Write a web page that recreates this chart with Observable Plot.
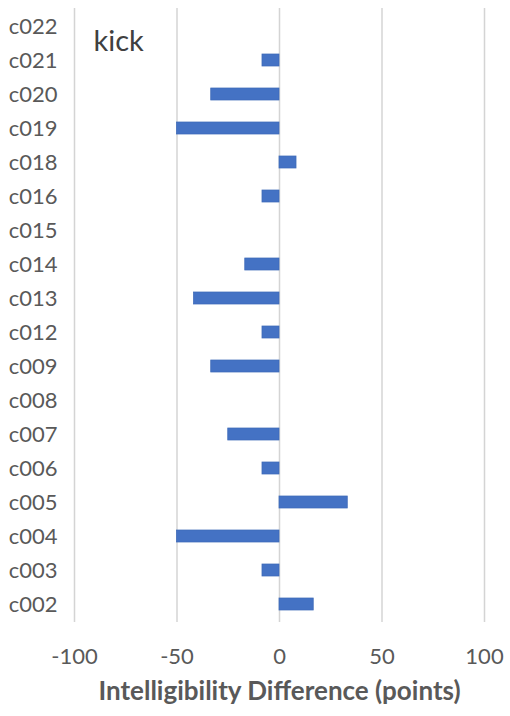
<!DOCTYPE html>
<html>
<head>
<meta charset="utf-8">
<script src="https://cdn.jsdelivr.net/npm/d3@7"></script>
<script src="https://cdn.jsdelivr.net/npm/@observablehq/plot@0.6"></script>
<style>
  html, body { margin: 0; padding: 0; background: #fff; }
  #chart svg { display: block; }
</style>
</head>
<body>
<div id="chart"></div>
<script>
const categories = ["c002","c003","c004","c005","c006","c007","c008","c009","c012","c013","c014","c015","c016","c018","c019","c020","c021","c022"];
const values = [16.7, -8.3, -50, 33.3, -8.3, -25, 0, -33.3, -8.3, -41.7, -16.7, 0, -8.3, 8.3, -50, -33.3, -8.3, 0];
const xTicks = [-100, -50, 0, 50, 100];
const xLabel = "Intelligibility Difference (points)";
const panelTitle = "kick";

const data = categories.map((c, i) => ({category: c, value: values[i]}));
const textColor = "#595959";

const chart = Plot.plot({
  width: 510,
  height: 716,
  marginTop: 8,
  marginBottom: 94,
  marginLeft: 74,
  marginRight: 26,
  style: {fontFamily: "Lato, 'Open Sans', sans-serif", fontSize: "22px", color: textColor, background: "#fff"},
  x: {domain: [-100, 100], ticks: xTicks, label: null},
  y: {domain: categories.slice().reverse(), paddingInner: 0.65, paddingOuter: 0.325, label: null},
  marks: [
    Plot.ruleX(xTicks, {stroke: "#d4d4d4", strokeWidth: 1.5}),
    Plot.barX(data, {x: "value", y: "category", fill: "#4472C4", stroke: "#3e6ab8", strokeWidth: 0.75}),
    Plot.axisY({tickSize: 0, tickPadding: 17, fontSize: 22, fill: textColor, label: null}),
    Plot.axisX({ticks: xTicks, tickFormat: d => String(d), tickSize: 0, tickPadding: 26, fontSize: 22, fill: textColor, label: null}),
    Plot.text([xLabel], {frameAnchor: "bottom", dy: 77, fontSize: 26, fontWeight: "bold", fill: textColor, letterSpacing: "0.5px"}),
    Plot.text([panelTitle], {frameAnchor: "top-left", textAnchor: "start", dx: 19, dy: 22, fontSize: 29, fill: "#404040"})
  ]
});
document.getElementById("chart").appendChild(chart);
</script>
</body>
</html>
